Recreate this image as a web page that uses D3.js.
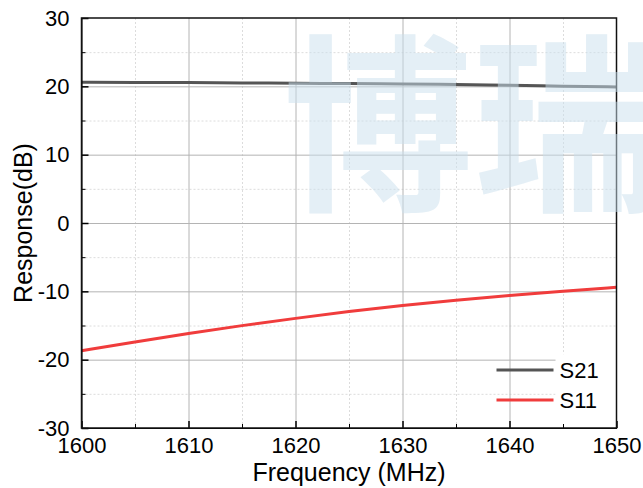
<!DOCTYPE html>
<html>
<head>
    <meta charset="utf-8">
    <title>S-parameter response</title>
    <script src="https://d3js.org/d3.v7.min.js"></script>
    <style>
        body { margin: 0; background: #fff; }
        text { font-family: "Liberation Sans", Arial, sans-serif; fill: #000; }
        .grid-major line { stroke: #b4b4b4; stroke-width: 1; }
        .grid-minor line { stroke: #dcdcdc; stroke-width: 1; stroke-dasharray: 2,2; }
    </style>
</head>
<body>
    <svg width="643" height="488"></svg>
    <script>

        // Data
        const freq = [1600, 1605, 1610, 1615, 1620, 1625, 1630, 1635, 1640, 1645, 1650];
        const s21 = [20.6, 20.58, 20.55, 20.5, 20.45, 20.4, 20.35, 20.26, 20.15, 20.03, 19.9];
        const s11 = [-18.7, -17.4, -16.15, -15.0, -13.95, -12.95, -12.05, -11.3, -10.6, -10.0, -9.4];
        const xTicks = [1600, 1610, 1620, 1630, 1640, 1650];
        const yTicks = [-30, -20, -10, 0, 10, 20, 30];
        const seriesNames = ["S21", "S11"];
        const seriesColors = ["#555555", "#f03c3c"];

        const svg = d3.select("svg"),
            margin = { top: 18, right: 26.5, bottom: 60, left: 81.5 },
            width = +svg.attr("width") - margin.left - margin.right,
            height = +svg.attr("height") - margin.top - margin.bottom;

        svg.append("rect").attr("width", 643).attr("height", 488).attr("fill", "#fff");

        const g = svg.append("g").attr("transform", "translate(" + margin.left + "," + margin.top + ")");

        const x = d3.scaleLinear().domain([1600, 1650]).range([0, width]);
        const y = d3.scaleLinear().domain([-30, 30]).range([height, 0]);

        // minor grid (dotted)
        g.append("g")
            .attr("class", "grid-minor")
            .attr("transform", "translate(0," + height + ")")
            .call(d3.axisBottom(x).tickValues(d3.range(1605, 1650, 10)).tickSize(-height).tickFormat(""))
            .call(a => a.select(".domain").remove());
        g.append("g")
            .attr("class", "grid-minor")
            .call(d3.axisLeft(y).tickValues(d3.range(-25, 30, 10)).tickSize(-width).tickFormat(""))
            .call(a => a.select(".domain").remove());

        // major grid
        g.append("g")
            .attr("class", "grid-major")
            .attr("transform", "translate(0," + height + ")")
            .call(d3.axisBottom(x).tickValues(xTicks.slice(1, -1)).tickSize(-height).tickFormat(""))
            .call(a => a.select(".domain").remove());
        g.append("g")
            .attr("class", "grid-major")
            .call(d3.axisLeft(y).tickValues(yTicks.slice(1, -1)).tickSize(-width).tickFormat(""))
            .call(a => a.select(".domain").remove());

        // watermark (runs off the right edge, as in the original)
        svg.append("text")
            .attr("x", 283)
            .attr("y", 196)
            .style("font-family", "'Noto Sans CJK SC', sans-serif")
            .style("font-weight", "bold")
            .style("font-size", "190px")
            .style("fill", "#c9dfee")
            .style("fill-opacity", 0.5)
            .text("博瑞");

        // lines
        const line = d3.line()
            .x(function(d) { return x(d[0]); })
            .y(function(d) { return y(d[1]); })
            .curve(d3.curveBasis);

        [s21, s11].forEach(function(vals, i) {
            g.append("path")
                .datum(freq.map((f, k) => [f, vals[k]]))
                .attr("fill", "none")
                .attr("stroke", seriesColors[i])
                .attr("stroke-width", 3)
                .attr("d", line);
        });

        // legend
        const leg = g.append("g");
        leg.append("rect")
            .attr("x", x(1644.3)).attr("y", y(-19.2))
            .attr("width", width - x(1644.3)).attr("height", y(-30) - y(-19.2) - 1)
            .attr("fill", "#fff");
        seriesNames.forEach(function(name, i) {
            const ly = y(-21.5) + i * 30;
            leg.append("line")
                .attr("x1", 415).attr("x2", 472)
                .attr("y1", ly).attr("y2", ly)
                .attr("stroke", seriesColors[i])
                .attr("stroke-width", 3);
            leg.append("text")
                .attr("x", 478)
                .attr("y", ly)
                .attr("dy", "0.36em")
                .style("font-size", "22px")
                .text(name);
        });

        // axes
        const fmt = function(d) { return String(d); };
        const xAxis = g.append("g")
            .attr("transform", "translate(0," + height + ")")
            .call(d3.axisBottom(x).tickValues(xTicks).tickSizeInner(-7).tickSizeOuter(0).tickPadding(9).tickFormat(fmt));
        g.append("g")
            .attr("transform", "translate(0," + height + ")")
            .call(d3.axisBottom(x).tickValues(d3.range(1605, 1650, 10)).tickSizeInner(-4).tickSizeOuter(0).tickFormat(""))
            .call(a => a.select(".domain").remove());
        const yAxis = g.append("g")
            .call(d3.axisLeft(y).tickValues(yTicks).tickSizeInner(-7).tickSizeOuter(0).tickPadding(12).tickFormat(fmt));
        g.append("g")
            .call(d3.axisLeft(y).tickValues(d3.range(-25, 30, 10)).tickSizeInner(-4).tickSizeOuter(0).tickFormat(""))
            .call(a => a.select(".domain").remove());

        [xAxis, yAxis].forEach(function(a) {
            a.selectAll("text").style("font-size", "22px").style("font-family", "'Liberation Sans', Arial, sans-serif").attr("fill", "#000");
            a.selectAll("line").attr("stroke", "#000").attr("stroke-width", 1.5);
        });

        // frame
        g.append("rect")
            .attr("width", width).attr("height", height)
            .attr("fill", "none").attr("stroke", "#111").attr("stroke-width", 1.5);

        // axis titles
        svg.append("text")
            .attr("x", margin.left + width / 2)
            .attr("y", 481)
            .attr("text-anchor", "middle")
            .style("font-size", "25px")
            .text("Frequency (MHz)");

        svg.append("text")
            .attr("transform", "translate(32," + (margin.top + height / 2) + ") rotate(-90)")
            .attr("text-anchor", "middle")
            .style("font-size", "25px")
            .text("Response(dB)");

    </script>
</body>
</html>
